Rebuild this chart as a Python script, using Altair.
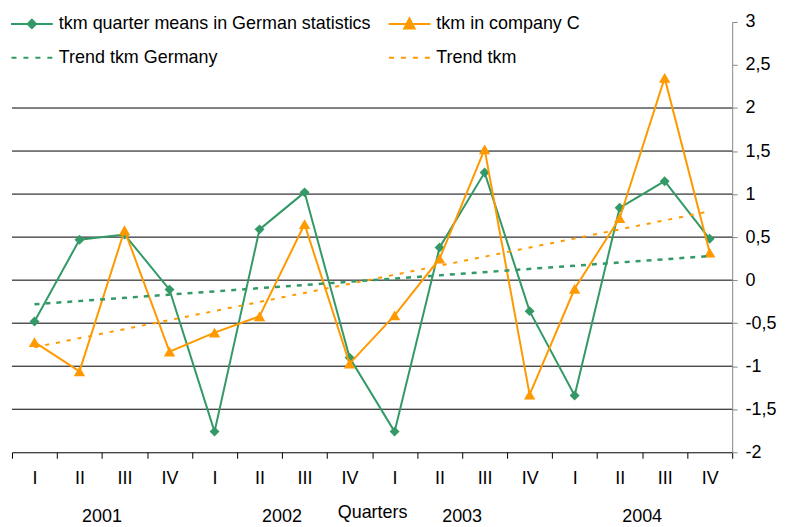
import altair as alt
import pandas as pd

# ---------------- data ----------------
years = ["2001", "2002", "2003", "2004"]
quarter_names = ["I", "II", "III", "IV"]
keys = [f"{y}-{q}" for y in years for q in quarter_names]

german = [-0.48, 0.47, 0.53, -0.11, -1.76, 0.59, 1.02, -0.90,
          -1.76, 0.38, 1.25, -0.36, -1.34, 0.84, 1.15, 0.48]
company = [-0.72, -1.06, 0.58, -0.83, -0.61, -0.42, 0.65, -0.97,
           -0.41, 0.25, 1.52, -1.33, -0.10, 0.72, 2.35, 0.32]
trend_germany = [-0.28, 0.28]   # first and last quarter
trend_company = [-0.78, 0.80]   # first and last quarter

grid_values = [-1.5, -1, -0.5, 0, 0.5, 1, 1.5, 2]
y_ticks = [-2, -1.5, -1, -0.5, 0, 0.5, 1, 1.5, 2, 2.5, 3]

# legend order (filled column by column)
series_names = ["tkm quarter means in German statistics", "Trend tkm Germany",
                "tkm in company C", "Trend tkm"]
GREEN = "#339966"
ORANGE = "#FF9900"
series_colors = [GREEN, GREEN, ORANGE, ORANGE]

# legend symbols (custom paths: line + marker / dashes)
sym_line_diamond = "M-2.1,0H2.1M0,-0.42L0.42,0L0,0.42L-0.42,0Z"
sym_line_triangle = "M-2.1,0H2.1M-0.52,0.46L0,-0.55L0.52,0.46Z"
sym_dash = "M-2.05,0H-1.55M-0.85,0H-0.35M0.35,0H0.85M1.55,0H2.05"
series_symbols = [sym_line_diamond, sym_dash, sym_line_triangle, sym_dash]

# ---------------- tables ----------------
df_g = pd.DataFrame({"key": keys, "v": german})
df_c = pd.DataFrame({"key": keys, "v": company})
df_tg = pd.DataFrame({"key": [keys[0], keys[-1]], "v": trend_germany})
df_tc = pd.DataFrame({"key": [keys[0], keys[-1]], "v": trend_company})
df_grid = pd.DataFrame({"v": grid_values})
df_years = pd.DataFrame({"key": [f"{y}-II" for y in years], "year": years})
df_legend = pd.DataFrame({"series": series_names})

FONT = "Liberation Sans"

xscale = alt.Scale(type="band", domain=keys, paddingInner=0, paddingOuter=0)
yscale = alt.Scale(domain=[-2, 3], nice=False, zero=False)

xaxis = alt.Axis(
    title="Quarters", orient="bottom", labelExpr="split(datum.label, '-')[1]",
    tickBand="extent", labelAngle=0, labelFontSize=18, labelFont=FONT,
    labelColor="black", labelPadding=11, tickSize=6, tickColor="black",
    domainColor="black", titleFontSize=18, titleFont=FONT,
    titleFontWeight="normal", titleColor="black", titlePadding=16, grid=False,
)
yaxis = alt.Axis(
    title=None, orient="right", values=y_ticks,
    labelExpr="replace(toString(datum.value), '.', ',')",
    labelFontSize=18, labelFont=FONT, labelColor="black", labelPadding=8,
    tickSize=5, tickColor="#868686", domainColor="#868686", grid=False,
)

X = alt.X("key:N", scale=xscale, axis=xaxis)
Y = alt.Y("v:Q", scale=yscale, axis=yaxis)

grid = alt.Chart(df_grid).mark_rule(color="black", strokeWidth=1).encode(y=Y)

line_g = alt.Chart(df_g).mark_line(color=GREEN, strokeWidth=2).encode(x=X, y=Y)
pts_g = alt.Chart(df_g).mark_point(shape="diamond", filled=True, size=100,
                                   color=GREEN, opacity=1).encode(x=X, y=Y)
line_c = alt.Chart(df_c).mark_line(color=ORANGE, strokeWidth=2).encode(x=X, y=Y)
pts_c = alt.Chart(df_c).mark_point(shape="triangle-up", filled=True, size=130,
                                   color=ORANGE, opacity=1).encode(x=X, y=Y)
tr_g = alt.Chart(df_tg).mark_line(color=GREEN, strokeWidth=2.5,
                                  strokeDash=[5, 6]).encode(x=X, y=Y)
tr_c = alt.Chart(df_tc).mark_line(color=ORANGE, strokeWidth=2,
                                  strokeDash=[4, 7]).encode(x=X, y=Y)

year_text = alt.Chart(df_years).mark_text(
    fontSize=18, font=FONT, color="black", baseline="alphabetic", align="center"
).encode(x=alt.X("key:N", scale=xscale, axis=xaxis, bandPosition=1),
         y=alt.value(502), text="year:N")

leg = alt.Legend(
    title=None, orient="none", legendX=9, legendY=-9, columns=2,
    labelFont=FONT, labelFontSize=18, labelColor="black", labelLimit=600,
    symbolSize=400, symbolStrokeWidth=2, labelOffset=16, rowPadding=14,
    columnPadding=13, padding=0, gridAlign="each", symbolOpacity=1,
)
legend_layer = alt.Chart(df_legend).transform_filter("false").mark_point(
    filled=True, opacity=1
).encode(
    fill=alt.Fill("series:N", scale=alt.Scale(domain=series_names, range=series_colors), legend=leg),
    stroke=alt.Stroke("series:N", scale=alt.Scale(domain=series_names, range=series_colors), legend=leg),
    shape=alt.Shape("series:N", scale=alt.Scale(domain=series_names, range=series_symbols), legend=leg),
)

chart = alt.layer(
    grid, line_g, pts_g, line_c, pts_c, tr_g, tr_c, year_text, legend_layer
).properties(
    width=723, height=432,
    padding={"left": 4, "top": 13, "right": 45, "bottom": 73},
    autosize=alt.AutoSizeParams(type="none"),
).configure(font=FONT).configure_view(stroke=None)

chart.save("out.html", embed_options={"renderer": "svg", "actions": False})
